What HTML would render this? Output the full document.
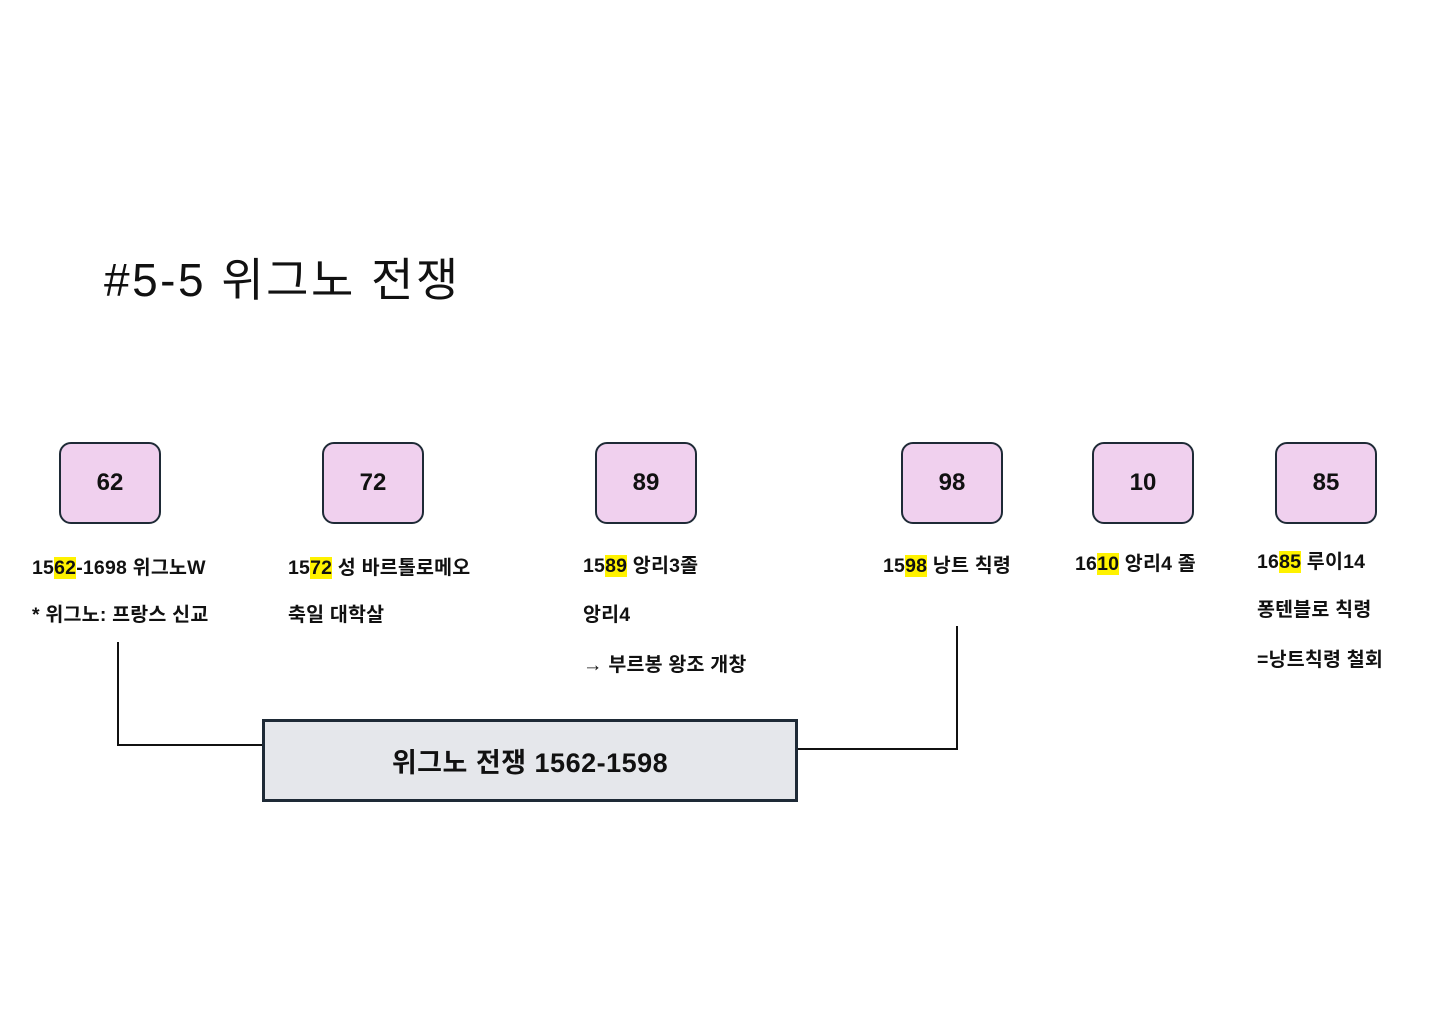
<!DOCTYPE html>
<html><head><meta charset="utf-8"><style>
body{margin:0;width:1440px;height:1018px;background:#fff;position:relative;overflow:hidden;font-family:"Liberation Sans","Noto Sans CJK KR",sans-serif;color:#111}
.b{position:absolute;width:98px;height:78px;background:#f0d0ee;border:2.5px solid #1e2a36;border-radius:12px;box-sizing:content-box;display:flex;align-items:center;justify-content:center;font-weight:bold;font-size:24px}
.t{position:absolute;font-weight:bold;font-size:19.5px;white-space:nowrap;line-height:24px;letter-spacing:0.2px}
.h{background:#fff200}
.l{position:absolute;background:#111}
</style></head><body>
<div style="position:absolute;left:104px;top:244px;font-size:46px;letter-spacing:2.5px">#5-5 위그노 전쟁</div>
<div class="b" style="left:59px;top:442px">62</div>
<div class="b" style="left:322px;top:442px">72</div>
<div class="b" style="left:595px;top:442px">89</div>
<div class="b" style="left:901px;top:442px">98</div>
<div class="b" style="left:1092px;top:442px">10</div>
<div class="b" style="left:1275px;top:442px">85</div>
<div class="t" style="left:32px;top:556px">15<span class="h">62</span>-1698 위그노W</div>
<div class="t" style="left:32px;top:603px">* 위그노: 프랑스 신교</div>
<div class="t" style="left:288px;top:556px">15<span class="h">72</span> 성 바르톨로메오</div>
<div class="t" style="left:288px;top:603px">축일 대학살</div>
<div class="t" style="left:583px;top:554px">15<span class="h">89</span> 앙리3졸</div>
<div class="t" style="left:583px;top:603px">앙리4</div>
<div class="t" style="left:583px;top:653px">→ 부르봉 왕조 개창</div>
<div class="t" style="left:883px;top:554px">15<span class="h">98</span> 낭트 칙령</div>
<div class="t" style="left:1075px;top:552px">16<span class="h">10</span> 앙리4 졸</div>
<div class="t" style="left:1257px;top:550px">16<span class="h">85</span> 루이14</div>
<div class="t" style="left:1257px;top:598px">퐁텐블로 칙령</div>
<div class="t" style="left:1257px;top:648px">=낭트칙령 철회</div>
<div class="l" style="left:117px;top:642px;width:2px;height:104px"></div>
<div class="l" style="left:117px;top:744px;width:146px;height:2px"></div>
<div class="l" style="left:956px;top:626px;width:2px;height:124px"></div>
<div class="l" style="left:797px;top:748px;width:161px;height:2px"></div>
<div style="position:absolute;left:262px;top:719px;width:536px;height:83px;box-sizing:border-box;background:#e5e7eb;border:3px solid #1e2a36;display:flex;align-items:center;justify-content:center;font-weight:bold;font-size:27px;letter-spacing:0.5px">위그노 전쟁 1562-1598</div>
</body></html>
